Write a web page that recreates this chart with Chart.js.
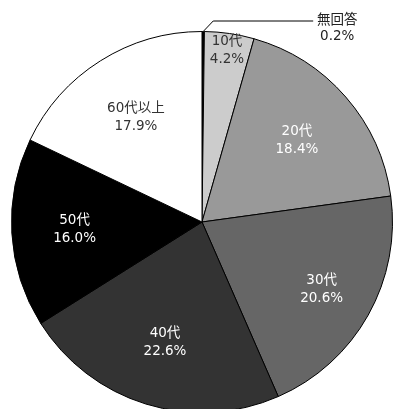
<!DOCTYPE html>
<html>
<head>
<meta charset="utf-8">
<script src="https://cdn.jsdelivr.net/npm/chart.js@4/dist/chart.umd.min.js"></script>
<style>
  html, body { margin: 0; padding: 0; background: #fff; overflow: hidden; }
  #wrap { width: 393px; height: 409px; overflow: hidden; position: relative; }
  canvas { position: absolute; left: 0; top: 0; }
</style>
</head>
<body>
<div id="wrap"><canvas id="c" width="393" height="440"></canvas></div>
<script>
// Age groups of respondents (clockwise from the top)
const categories = ['無回答', '10代', '20代', '30代', '40代', '50代', '60代以上'];
const shares = [0.2, 4.2, 18.4, 20.6, 22.6, 16.0, 17.9];

// Slice fills and label styling
const fills = ['#000000', '#cccccc', '#999999', '#666666', '#333333', '#000000', '#ffffff'];
const textColors = [null, '#333333', '#ffffff', '#ffffff', '#ffffff', '#ffffff', '#333333'];
const labelRadius = [null, 0.91, 0.66, 0.72, 0.66, 0.67, 0.65];
const FONT = '13.5px "DejaVu Sans", "Noto Sans CJK JP", sans-serif';

const sliceLabels = {
  id: 'sliceLabels',
  afterDatasetsDraw(chart) {
    const ctx = chart.ctx;
    const meta = chart.getDatasetMeta(0);
    ctx.save();
    ctx.font = FONT;
    ctx.textAlign = 'center';
    ctx.textBaseline = 'middle';
    meta.data.forEach((arc, i) => {
      const p = arc.getProps(['x', 'y', 'startAngle', 'endAngle', 'outerRadius'], true);
      const mid = (p.startAngle + p.endAngle) / 2;
      const text = [categories[i], shares[i].toFixed(1) + '%'];
      if (labelRadius[i] === null) {
        // small slice: leader line out to the upper right
        const x0 = p.x + Math.cos(mid) * p.outerRadius;
        const y0 = p.y + Math.sin(mid) * p.outerRadius;
        ctx.strokeStyle = '#000';
        ctx.lineWidth = 1;
        ctx.beginPath();
        ctx.moveTo(x0, y0);
        ctx.lineTo(x0 + 10, y0 - 10.5);
        ctx.lineTo(x0 + 110, y0 - 10.5);
        ctx.stroke();
        ctx.fillStyle = '#222';
        ctx.fillText(text[0], x0 + 134, y0 - 11);
        ctx.fillText(text[1], x0 + 134, y0 + 5);
        return;
      }
      const r = p.outerRadius * labelRadius[i];
      const cx = p.x + Math.cos(mid) * r;
      const cy = p.y + Math.sin(mid) * r;
      ctx.fillStyle = textColors[i];
      ctx.fillText(text[0], cx, cy - 8.5);
      ctx.fillText(text[1], cx, cy + 9.5);
    });
    ctx.restore();
  }
};

new Chart(document.getElementById('c'), {
  type: 'pie',
  data: {
    labels: categories,
    datasets: [{
      data: shares,
      backgroundColor: fills,
      borderColor: '#000',
      borderWidth: 1
    }]
  },
  options: {
    responsive: false,
    animation: false,
    layout: { padding: { left: 11, right: 0, top: 31, bottom: 27 } },
    plugins: { legend: { display: false }, tooltip: { enabled: false } }
  },
  plugins: [sliceLabels]
});
</script>
</body>
</html>
